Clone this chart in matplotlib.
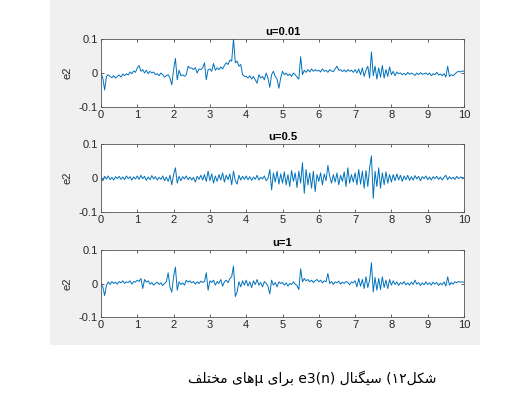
import numpy as np
import matplotlib
matplotlib.use("Agg")
import matplotlib.pyplot as plt
from matplotlib.patches import Rectangle

# sampled every 0.05 s, values in thousandths (20 per second + end point)
t = np.linspace(0, 10, 201)

e2_u001 = [
    0, -15, -50, -10, -5, -10, -14, -8, -15, -10, -6, -12, -3, -8, -2, -6, 3, -2, 6, 2,
    15, 22, 5, 10, 0, 8, -2, 5, 0, 3, -5, -2, -8, 0, -5, -12, -8, -5, -15, -35,
    10, 43, -20, 8, -8, -5, -10, -5, 20, 14, 15, 10, 16, 0, 12, 10, 15, 30, -20, 10,
    12, 5, 28, 8, 15, 10, 18, 12, 22, 30, 25, 38, 35, 100, 30, 35, 20, 25, -5, -10,
    -10, -15, -8, -18, -10, -20, -30, -5, -15, -10, -20, 0, -15, -42, -5, 5, -10, -18, -45, -15,
    5, -5, 0, -8, -3, -10, 0, -5, -12, -18, 48, -5, 8, 2, 10, 3, 12, 5, 10, 6,
    8, 3, 12, 5, 8, 2, 10, 6, 4, 12, 20, 8, 10, 4, 9, 3, 10, 5, 8, 2,
    10, 0, 12, -5, 15, -10, 8, 20, -15, 62, -8, 20, -18, 15, -12, 22, -15, 10, -10, 18,
    -5, 5, -8, 3, -2, 0, -5, -1, -6, 2, -4, 0, -3, -7, 0, -5, 1, -4, -2, 0,
    -5, 0, -8, -2, -5, 2, -6, -3, -8, -2, -12, 20, -10, -5, -8, -3, 2, 5, 3, 6,
    5,
]

e2_u05 = [
    0, -8, 5, -3, 6, -5, 2, -6, 4, -2, 5, -4, 3, -5, 6, -2, 4, -6, 3, -3,
    6, -4, 8, -2, 5, -7, 3, -5, 7, -3, 4, -6, 2, -4, 6, -8, 3, -10, 8, -20,
    10, 30, -15, 5, -8, 4, -3, 6, -5, 3, -6, 2, -12, 5, -4, 8, -6, 10, -10, 20,
    -8, 12, -15, 6, -10, 10, -6, 15, -12, 8, -5, 12, -20, 20, -8, -18, 8, -6, 5, -4,
    6, -5, 4, -7, 3, -4, 8, -6, 2, -3, 6, -8, -2, 25, -35, 15, -12, 20, -18, 12,
    -15, 18, -20, 10, -25, 22, -10, 15, -28, 20, -15, 45, -45, 25, -20, 15, -30, 20, -40, 10,
    -10, 15, -20, 12, -8, 37, 5, -15, 10, -12, 15, -20, 8, -10, 18, -25, 30, -15, 10, -12,
    15, -20, 25, -18, 20, -30, 22, -25, 30, 65, -60, 20, -25, 30, -30, 15, -20, 18, -15, 10,
    -12, 10, -8, 12, -6, 8, -10, 6, -5, 8, -7, 4, -6, 7, -3, 5, -8, 4, -2, 6,
    -5, 3, -6, 4, -2, 5, -4, 3, -6, 2, 8, -5, 4, -3, 2, -4, 5, -2, 3, 1,
    0,
]

e2_u1 = [
    0, -10, -36, -5, 5, -3, 6, 0, 4, -2, 6, 2, 8, 0, 5, 3, 8, -2, 6, 4,
    10, 6, 15, -15, 12, 4, 8, -2, 3, -5, 0, 4, -3, 2, -6, 0, 5, 32, -10, -26,
    20, 49, -20, 5, -3, 2, -5, 10, 4, 8, 2, 6, -2, 5, 0, 7, 3, 6, 32, -20,
    8, 3, 10, -5, 6, 0, 12, -8, 5, 10, 2, 15, 20, 52, -39, -25, 5, -10, 8, -5,
    10, -8, 5, -12, 8, -3, 12, -5, 3, -10, 6, 0, -8, -31, 10, -5, 3, -10, 5, 0,
    3, -5, 2, -8, 0, -3, 5, -2, -6, -18, 44, 5, 15, 8, 12, 5, 10, 3, 8, 12,
    5, 10, 2, 8, 5, 30, 0, 6, -3, 5, 2, 7, -2, 4, 0, 6, 3, -4, 5, 2,
    8, -10, 15, -8, 12, -15, 20, -12, 10, 62, -25, 18, -20, 15, -18, 20, -12, 10, -15, 12,
    -5, 8, -3, 5, -6, 3, -2, 6, -4, 2, -5, 4, -3, 10, -2, 3, -6, 2, -4, 5,
    -3, 2, -5, 4, -2, 3, -6, 1, -4, 5, -8, 20, -5, 3, -2, 5, 2, 6, 4, 5,
    4,
]

titles = ["u=0.01", "u=0.5", "u=1"]
series = [e2_u001, e2_u05, e2_u1]
xticks = list(range(11))
yticks = [-0.1, 0, 0.1]
ytick_labels = ["-0.1", "0", "0.1"]

# caption pieces in logical (reading) order
caption_parts = ["شکل", "۱۲", ")", " ", "سیگنال", " ", "e3(n)", " ", "برای", " ", "μ", "های", " ", "مختلف"]

# Arabic presentation forms: isolated, final, initial, medial
FORMS = {
    "\u0627": ("\uFE8D", "\uFE8E", None, None),
    "\u0628": ("\uFE8F", "\uFE90", "\uFE91", "\uFE92"),
    "\u062A": ("\uFE95", "\uFE96", "\uFE97", "\uFE98"),
    "\u062E": ("\uFEA5", "\uFEA6", "\uFEA7", "\uFEA8"),
    "\u0631": ("\uFEAD", "\uFEAE", None, None),
    "\u0633": ("\uFEB1", "\uFEB2", "\uFEB3", "\uFEB4"),
    "\u0634": ("\uFEB5", "\uFEB6", "\uFEB7", "\uFEB8"),
    "\u0641": ("\uFED1", "\uFED2", "\uFED3", "\uFED4"),
    "\u0644": ("\uFEDD", "\uFEDE", "\uFEDF", "\uFEE0"),
    "\u0645": ("\uFEE1", "\uFEE2", "\uFEE3", "\uFEE4"),
    "\u0646": ("\uFEE5", "\uFEE6", "\uFEE7", "\uFEE8"),
    "\u0647": ("\uFEE9", "\uFEEA", "\uFEEB", "\uFEEC"),
    "\u06A9": ("\uFB8E", "\uFB8F", "\uFB90", "\uFB91"),
    "\u06AF": ("\uFB92", "\uFB93", "\uFB94", "\uFB95"),
    "\u06CC": ("\uFBFC", "\uFBFD", "\uFBFE", "\uFBFF"),
}


def shape(word):
    """Join Persian letters and return them in visual (left to right) order."""
    out = []
    for i, ch in enumerate(word):
        if ch not in FORMS:
            out.append(ch)
            continue
        iso, fin, ini, med = FORMS[ch]
        prev = word[i - 1] if i > 0 else ""
        nxt = word[i + 1] if i + 1 < len(word) else ""
        jp = prev in FORMS and FORMS[prev][2] is not None
        jn = nxt in FORMS and ini is not None
        if jp and jn:
            out.append(med)
        elif jp:
            out.append(fin)
        elif jn:
            out.append(ini)
        else:
            out.append(iso)
    return "".join(out)[::-1]


def visual(parts):
    out = []
    for p in reversed(parts):
        if any(c in FORMS for c in p):
            out.append(shape(p))
        elif p == ")":
            out.append("(")
        else:
            out.append(p)
    return "".join(out)


W, H = 529, 397
fig = plt.figure(figsize=(W / 100, H / 100), dpi=100, facecolor="white")
fig.add_artist(Rectangle((50 / W, 1 - 345 / H), 430 / W, 345 / H,
                         transform=fig.transFigure, facecolor="#F0F0F0",
                         edgecolor="none", zorder=-10))

# axes boxes in pixels: (left, top, right, bottom)
boxes = [(101, 39, 464, 107), (101, 144, 464, 212), (101, 250, 464, 317)]

for (l, tp, r, b), title, vals in zip(boxes, titles, series):
    ax = fig.add_axes([l / W, 1 - b / H, (r - l) / W, (b - tp) / H])
    ax.plot(t, np.array(vals) / 1000, color="#0072BD", lw=0.7)
    ax.set_xlim(0, 10)
    ax.set_ylim(-0.1, 0.1)
    ax.set_xticks(xticks)
    ax.set_xticklabels([str(x) for x in xticks], family="Liberation Sans")
    ax.set_yticks(yticks)
    ax.set_yticklabels(ytick_labels, family="Liberation Sans")
    ax.tick_params(direction="in", top=True, right=True, length=2.5, width=0.5,
                   labelsize=8, colors="#262626", pad=2.5)
    for s in ax.spines.values():
        s.set_color("#555555")
        s.set_linewidth(0.6)
    ax.set_title(title, fontsize=8, fontweight="bold", pad=3,
                 family="Liberation Sans")
    ax.set_ylabel("e2", fontsize=8, labelpad=4, family="Liberation Sans",
                  color="#262626")

fig.text(312 / W, 1 - 378 / H, visual(caption_parts), ha="center", va="center",
         fontsize=10, family=["DejaVu Sans"])

fig.savefig("out.png", dpi=100, facecolor=fig.get_facecolor())
